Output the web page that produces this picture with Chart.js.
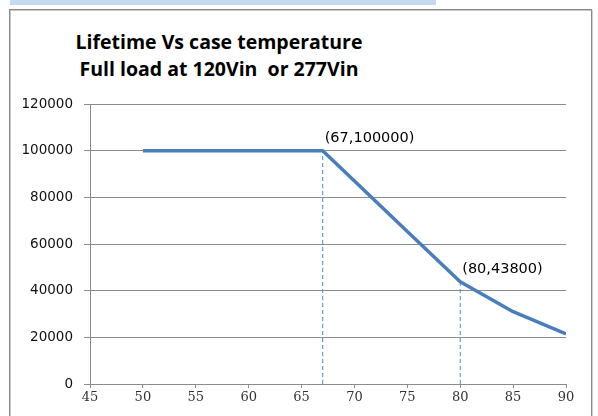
<!DOCTYPE html>
<html>
<head>
<meta charset="utf-8">
<script src="https://cdn.jsdelivr.net/npm/chart.js@4.4.1/dist/chart.umd.min.js"></script>
<style>
  html, body { margin: 0; padding: 0; background: #fff; }
  #wrap { position: relative; width: 598px; height: 416px; overflow: hidden; }
  #bar { position: absolute; left: 10px; top: 0; width: 426px; height: 5px; background: #c6d9f1; }
  #frame { position: absolute; left: 9px; top: 9px; width: 581px; height: 440px;
           border: 1px solid #8a8a8a; box-shadow: inset 1px 1px 0 #c8c8c8, 1px 1px 0 #d0d0d0; }
  #title { position: absolute; left: 40px; width: 358px; top: 28px; text-align: center;
           font-family: "Open Sans", sans-serif; font-weight: bold; font-size: 19.5px; line-height: 27px; color: #000; white-space: nowrap; }
  canvas { position: absolute; left: 0; top: 0; }
</style>
</head>
<body>
<div id="wrap">
  <div id="bar"></div>
  <div id="frame"></div>
  <div id="title">Lifetime Vs case temperature<br>Full load at 120Vin&nbsp;&nbsp;or 277Vin</div>
  <canvas id="c" width="598" height="416"></canvas>
</div>
<script>
const temps = [50, 67, 70, 75, 80, 85, 90];
const lifetimes = [100000, 100000, 87000, 65400, 43800, 31000, 21500];
const markerTemps = [67, 80];
const markerLives = [100000, 43800];
const markerLabels = ['(67,100000)', '(80,43800)'];
const xMin = 45, xMax = 90, xStep = 5;
const yMin = 0, yMax = 120000, yStep = 20000;

const mainData = temps.map((t, i) => ({ x: t, y: lifetimes[i] }));
const dashSets = markerTemps.map((t, i) => ({
  data: [{ x: t, y: yMin }, { x: t, y: markerLives[i] }],
  borderColor: '#3b8fd9', borderWidth: 1, borderDash: [4, 3],
  pointRadius: 0, showLine: true, fill: false, order: 2
}));

const labelPlugin = {
  id: 'pointLabels',
  afterDatasetsDraw(chart) {
    const { ctx, scales: { x, y } } = chart;
    ctx.save();
    ctx.font = '14.5px "DejaVu Sans", sans-serif';
    ctx.fillStyle = '#000';
    ctx.textAlign = 'left';
    ctx.textBaseline = 'alphabetic';
    markerTemps.forEach((t, i) => {
      ctx.fillText(markerLabels[i], x.getPixelForValue(t) + 2, y.getPixelForValue(markerLives[i]) - 9);
    });
    ctx.restore();
  }
};

new Chart(document.getElementById('c'), {
  type: 'scatter',
  data: {
    datasets: [{
      data: mainData, borderColor: '#4a7ebb', borderWidth: 3.5, pointRadius: 0,
      showLine: true, fill: false, order: 1, borderJoinStyle: 'round'
    }, ...dashSets]
  },
  options: {
    responsive: false,
    animation: false,
    layout: { padding: { left: 0, right: 32, top: 104, bottom: 0 } },
    plugins: { legend: { display: false }, tooltip: { enabled: false }, title: { display: false } },
    scales: {
      x: {
        type: 'linear', min: xMin, max: xMax,
        ticks: { stepSize: xStep, padding: 2, color: '#333', font: { family: '"DejaVu Serif", serif', size: 13 }, maxRotation: 0,
                 callback: v => String(v) },
        grid: { drawOnChartArea: false, drawTicks: true, tickLength: 4, color: '#8c8c8c' },
        border: { display: true, color: '#8c8c8c', width: 1 },
        afterFit(s) { s.height = 32; }
      },
      y: {
        type: 'linear', min: yMin, max: yMax,
        ticks: { stepSize: yStep, padding: 11, color: '#111', font: { family: '"DejaVu Sans", sans-serif', size: 13.5 },
                 callback: v => String(v) },
        grid: { drawOnChartArea: true, drawTicks: true, tickLength: 6, color: '#8c8c8c' },
        border: { display: true, color: '#8c8c8c', width: 1 },
        afterFit(s) { s.width = 90; }
      }
    }
  },
  plugins: [labelPlugin]
});
</script>
</body>
</html>
